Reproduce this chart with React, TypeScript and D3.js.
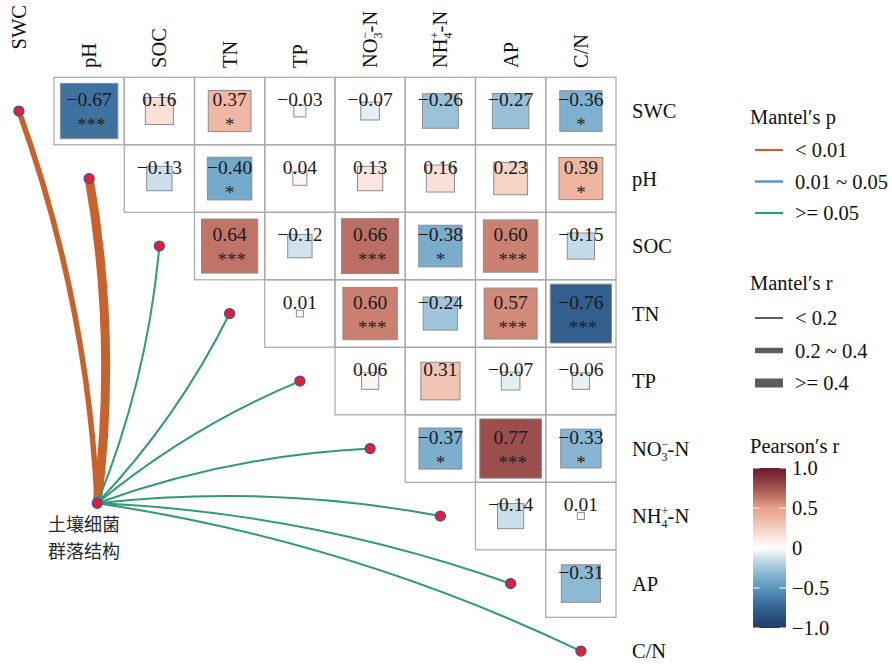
import React, { useEffect, useRef } from "react";
import * as d3 from "d3";

// Soil variables (order of rows and columns of the correlation grid)
const variables = ["SWC", "pH", "SOC", "TN", "TP", "NO3", "NH4", "AP", "CN"];

// Pearson's r, upper triangle: each row lists values against the variables after it
const rSWC = [-0.67, 0.16, 0.37, -0.03, -0.07, -0.26, -0.27, -0.36];
const rPH = [-0.13, -0.4, 0.04, 0.13, 0.16, 0.23, 0.39];
const rSOC = [0.64, -0.12, 0.66, -0.38, 0.6, -0.15];
const rTN = [0.01, 0.6, -0.24, 0.57, -0.76];
const rTP = [0.06, 0.31, -0.07, -0.06];
const rNO3 = [-0.37, 0.77, -0.33];
const rNH4 = [-0.14, 0.01];
const rAP = [-0.31];

// Significance marks for the same cells
const sSWC = ["***", "", "*", "", "", "", "", "*"];
const sPH = ["", "*", "", "", "", "", "*"];
const sSOC = ["***", "", "***", "*", "***", ""];
const sTN = ["", "***", "", "***", "***"];
const sTP = ["", "", "", ""];
const sNO3 = ["*", "***", "*"];
const sNH4 = ["", ""];
const sAP = [""];

const pearsonRows = [rSWC, rPH, rSOC, rTN, rTP, rNO3, rNH4, rAP];
const starRows = [sSWC, sPH, sSOC, sTN, sTP, sNO3, sNH4, sAP];

// Mantel test of bacterial community structure against each variable
const mantelP = ["<0.01", "<0.01", ">=0.05", ">=0.05", ">=0.05", ">=0.05", ">=0.05", ">=0.05", ">=0.05"];
const mantelR = ["0.2-0.4", ">=0.4", "<0.2", "<0.2", "<0.2", "<0.2", "<0.2", "<0.2", "<0.2"];

const pLevels = ["<0.01", "0.01-0.05", ">=0.05"];
const pLabels = ["< 0.01", "0.01 ~ 0.05", ">= 0.05"];
const rLevels = ["<0.2", "0.2-0.4", ">=0.4"];
const rLabels = ["< 0.2", "0.2 ~ 0.4", ">= 0.4"];

const barTicks = [1, 0.5, 0, -0.5, -1];
const barTickLabels = ["1.0", "0.5", "0", "\u22120.5", "\u22121.0"];

// Hub node position in grid units (columns, rows)
const hubCol = 1.615;
const hubRow = 6.31;
const hubName = ["土壤细菌", "群落结构"];

const W = 892;
const H = 664;
const SERIF = "'Liberation Serif','Times New Roman',serif";
const CJK = "'Noto Sans CJK SC','Noto Sans CJK JP',sans-serif";

const fmt = (v: number) => (v < 0 ? "\u2212" : "") + Math.abs(v).toFixed(2);

// Writes a variable name, with chemical sub/superscripts where needed
function writeName(t: d3.Selection<SVGTextElement, unknown, null, undefined>, key: string) {
  const small = 12;
  const shift = 0.564 * small;
  if (key === "NO3" || key === "NH4") {
    t.append("tspan").text(key === "NO3" ? "NO" : "NH");
    t.append("tspan").attr("font-size", small).attr("dy", -8).text(key === "NO3" ? "\u2212" : "+");
    t.append("tspan").attr("font-size", small).attr("dx", -shift).attr("dy", 13).text(key === "NO3" ? "3" : "4");
    t.append("tspan").attr("dy", -5).text("-N");
  } else if (key === "CN") {
    t.text("C/N");
  } else {
    t.text(key);
  }
}

export default function App() {
  const ref = useRef<SVGSVGElement>(null);

  useEffect(() => {
    const svg = d3.select(ref.current!);
    svg.selectAll("*").remove();

    const colW = 70.25;
    const rowH = 67.5;
    const x0 = -16.25;
    const y0 = 77.3;
    const n = variables.length;

    const x = d3.scaleBand<string>().domain(variables).range([x0, x0 + colW * n]);
    const y = d3.scaleBand<string>().domain(variables).range([y0, y0 + rowH * n]);
    const gx = d3.scaleLinear().domain([0, n]).range([x0, x0 + colW * n]);
    const gy = d3.scaleLinear().domain([0, n]).range([y0, y0 + rowH * n]);
    const cx = (v: string) => x(v)! + x.bandwidth() / 2;
    const cy = (v: string) => y(v)! + y.bandwidth() / 2;

    const color = d3
      .scaleLinear<string>()
      .domain([-1, -0.75, -0.5, -0.25, 0, 0.25, 0.5, 0.75, 1])
      .range(["#1f3b69", "#33618f", "#5a97c0", "#9dc4da", "#ffffff", "#f5cfc0", "#e8a088", "#a0524f", "#6b1a2b"])
      .interpolate(d3.interpolateRgb)
      .clamp(true);
    const side = d3.scaleSqrt().domain([0, 1]).range([0, 1]);

    const pColor = d3.scaleOrdinal<string, string>().domain(pLevels).range(["#c8622c", "#4a8ac9", "#2e9b72"]);
    const rWidth = d3.scaleOrdinal<string, number>().domain(rLevels).range([2, 5.5, 9]);

    // ---- correlation grid ----
    const gGrid = svg.append("g");
    pearsonRows.forEach((vals, i) => {
      vals.forEach((v, k) => {
        const j = i + 1 + k;
        const rv = variables[i];
        const cv = variables[j];
        gGrid
          .append("rect")
          .attr("x", x(cv)!)
          .attr("y", y(rv)!)
          .attr("width", x.bandwidth())
          .attr("height", y.bandwidth())
          .attr("fill", "none")
          .attr("stroke", "#a8a8a8")
          .attr("stroke-width", 1.2);
      });
    });

    const gCells = svg.append("g");
    pearsonRows.forEach((vals, i) => {
      vals.forEach((v, k) => {
        const j = i + 1 + k;
        const rv = variables[i];
        const cv = variables[j];
        const w = side(Math.abs(v)) * x.bandwidth();
        const h = side(Math.abs(v)) * y.bandwidth();
        gCells
          .append("rect")
          .attr("x", cx(cv) - w / 2)
          .attr("y", cy(rv) - h / 2)
          .attr("width", w)
          .attr("height", h)
          .attr("fill", color(v))
          .attr("stroke", "#8c8c8c")
          .attr("stroke-width", 1);
        gCells
          .append("text")
          .attr("x", cx(cv))
          .attr("y", cy(rv) - 5)
          .attr("text-anchor", "middle")
          .attr("font-family", SERIF)
          .attr("font-size", 19.5)
          .attr("fill", "#1a1a1a")
          .text(fmt(v));
        const star = starRows[i][k];
        if (star) {
          gCells
            .append("text")
            .attr("x", cx(cv) + (star.length > 1 ? 2 : 0))
            .attr("y", cy(rv) + 20)
            .attr("text-anchor", "middle")
            .attr("font-family", SERIF)
            .attr("font-size", 19)
            .attr("fill", "#222")
            .text(star);
        }
      });
    });

    // ---- axis labels ----
    variables.forEach((v, i) => {
      const t = svg
        .append("text")
        .attr("font-family", SERIF)
        .attr("font-size", 20.5)
        .attr("fill", "#111")
        .attr("text-anchor", i === 0 ? "end" : "start")
        .attr("transform", `translate(${cx(v) + 7},${i === 0 ? 5 : 68}) rotate(-90)`);
      writeName(t, v);
      const r = svg
        .append("text")
        .attr("font-family", SERIF)
        .attr("font-size", 20.5)
        .attr("fill", "#111")
        .attr("x", 632)
        .attr("y", cy(v) + 7);
      writeName(r, v);
    });

    // ---- Mantel links ----
    const hx = gx(hubCol);
    const hy = gy(hubRow);
    const gLinks = svg.append("g").attr("fill", "none");
    variables.forEach((v, i) => {
      const tx = cx(v);
      const ty = cy(v);
      const dx = tx - hx;
      const dy = ty - hy;
      const L = Math.hypot(dx, dy);
      let nx = dy / L;
      let ny = -dx / L;
      if (nx - ny < 0) {
        nx = -nx;
        ny = -ny;
      }
      const k = 0.075 * L;
      const path = d3.path();
      path.moveTo(hx, hy);
      path.quadraticCurveTo((hx + tx) / 2 + nx * k, (hy + ty) / 2 + ny * k, tx, ty);
      gLinks
        .append("path")
        .attr("d", path.toString())
        .attr("stroke", pColor(mantelP[i]))
        .attr("stroke-width", rWidth(mantelR[i]));
    });

    const gDots = svg.append("g");
    const dots = variables.map((v) => [cx(v), cy(v)]).concat([[hx, hy]]);
    dots.forEach(([px, py]) => {
      gDots
        .append("circle")
        .attr("cx", px)
        .attr("cy", py)
        .attr("r", 5)
        .attr("fill", "#e3202b")
        .attr("stroke", "#3f4fb8")
        .attr("stroke-width", 1.3);
    });

    // Hub label, two lines
    hubName.forEach((s, i) => {
      svg
        .append("text")
        .attr("x", 84)
        .attr("y", 531 + i * 26.5)
        .attr("text-anchor", "middle")
        .attr("font-family", CJK)
        .attr("font-size", 18)
        .attr("fill", "#2a2a2a")
        .text(s);
    });

    // ---- legends ----
    const lg = svg.append("g").attr("font-family", SERIF).attr("font-size", 20.5).attr("fill", "#111");
    lg.append("text").attr("x", 750).attr("y", 124).text("Mantel\u2032s p");
    pLevels.forEach((p, i) => {
      const yy = 150 + i * 31.5;
      lg.append("line")
        .attr("x1", 755).attr("x2", 783).attr("y1", yy).attr("y2", yy)
        .attr("stroke", pColor(p)).attr("stroke-width", 2.2);
      lg.append("text").attr("x", 795).attr("y", yy + 7).text(pLabels[i]);
    });

    lg.append("text").attr("x", 750).attr("y", 290).text("Mantel\u2032s r");
    rLevels.forEach((r, i) => {
      const yy = 318 + i * 32.5;
      lg.append("line")
        .attr("x1", 755).attr("x2", 783).attr("y1", yy).attr("y2", yy)
        .attr("stroke", "#5c5c5c").attr("stroke-width", rWidth(r));
      lg.append("text").attr("x", 795).attr("y", yy + 7).text(rLabels[i]);
    });

    lg.append("text").attr("x", 750).attr("y", 453).text("Pearson\u2032s r");
    const bar = d3.scaleLinear().domain([-1, 1]).range([628, 468]);
    const defs = svg.append("defs");
    const grad = defs
      .append("linearGradient")
      .attr("id", "pearsonGrad")
      .attr("x1", 0).attr("x2", 0).attr("y1", 1).attr("y2", 0);
    d3.range(0, 1.0001, 0.05).forEach((t) => {
      grad.append("stop").attr("offset", t).attr("stop-color", color(-1 + 2 * t));
    });
    const bx = 753;
    const bw = 33;
    lg.append("rect")
      .attr("x", bx).attr("y", bar(1)).attr("width", bw).attr("height", bar(-1) - bar(1))
      .attr("fill", "url(#pearsonGrad)");
    barTicks.forEach((t, i) => {
      const yy = bar(t);
      lg.append("line").attr("x1", bx).attr("x2", bx + 6.5).attr("y1", yy).attr("y2", yy)
        .attr("stroke", "#fff").attr("stroke-width", 1);
      lg.append("line").attr("x1", bx + bw - 6.5).attr("x2", bx + bw).attr("y1", yy).attr("y2", yy)
        .attr("stroke", "#fff").attr("stroke-width", 1);
      lg.append("text").attr("x", 792).attr("y", yy + 7).text(barTickLabels[i]);
    });
  }, []);

  return (
    <svg
      ref={ref}
      width={W}
      height={H}
      style={{ position: "absolute", left: 0, top: 0, background: "#ffffff" }}
    />
  );
}
